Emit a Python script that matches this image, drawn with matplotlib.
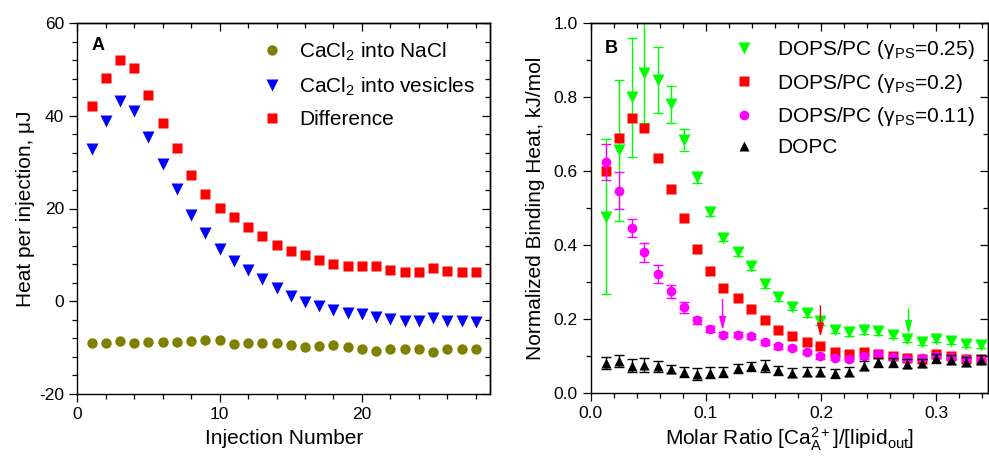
import matplotlib
matplotlib.use("Agg")
import matplotlib.pyplot as plt
from matplotlib.ticker import MultipleLocator, FormatStrFormatter

plt.rcParams['font.family'] = ['Liberation Sans', 'DejaVu Sans']
plt.rcParams['mathtext.fontset'] = 'custom'
plt.rcParams['mathtext.rm'] = 'Liberation Sans'
plt.rcParams['mathtext.it'] = 'Liberation Sans:italic'
plt.rcParams['mathtext.bf'] = 'Liberation Sans:bold'
plt.rcParams['axes.unicode_minus'] = False

# ---------------- Panel A data ----------------
injection = list(range(1, 29))
nacl = [-8.97, -9.1, -8.67, -8.97, -8.82, -8.74, -8.88, -8.67, -8.39, -8.39,
        -9.25, -9.1, -8.97, -8.97, -9.4, -9.83, -9.68, -9.53, -9.83, -10.3,
        -10.7, -10.4, -10.4, -10.2, -10.9, -10.4, -10.2, -10.4]
vesicles = [32.8, 38.8, 43.2, 41.1, 35.5, 29.6, 24.2, 18.5, 14.7, 11.3,
            8.7, 6.7, 4.9, 2.9, 1.1, -0.15, -1.1, -1.9, -2.5, -2.8,
            -3.4, -3.9, -4.3, -4.2, -3.7, -4.3, -4.3, -4.5]
difference = [42.2, 48.2, 52.0, 50.3, 44.5, 38.4, 33.0, 27.3, 23.2, 20.1,
              18.1, 16.1, 14.0, 12.2, 10.8, 9.9, 9.0, 8.1, 7.5, 7.7,
              7.5, 6.8, 6.4, 6.4, 7.2, 6.5, 6.2, 6.2]

# ---------------- Panel B data ----------------
ratio = [0.0133, 0.0246, 0.0356, 0.0466, 0.0582, 0.0695, 0.0811, 0.0927,
         0.1037, 0.115, 0.1275, 0.139, 0.151, 0.163, 0.175, 0.188,
         0.199, 0.212, 0.224, 0.237, 0.2496, 0.2626, 0.275, 0.288,
         0.300, 0.313, 0.326, 0.339]
ps025 = [0.477, 0.656, 0.799, 0.864, 0.846, 0.780, 0.683, 0.583,
         0.490, 0.420, 0.381, 0.342, 0.295, 0.260, 0.233, 0.215,
         0.194, 0.171, 0.165, 0.169, 0.167, 0.156, 0.146, 0.139,
         0.147, 0.140, 0.132, 0.130]
ps025_err = [0.21, 0.19, 0.16, 0.135, 0.09, 0.05, 0.03, 0.015,
             0.012, 0.01, 0.01, 0.01, 0.012, 0.012, 0.01, 0.01,
             0.01, 0.01, 0.01, 0.01, 0.01, 0.008, 0.008, 0.008,
             0.008, 0.008, 0.008, 0.008]
ps020 = [0.601, 0.688, 0.742, 0.717, 0.635, 0.550, 0.473, 0.389,
         0.330, 0.284, 0.257, 0.227, 0.198, 0.171, 0.153, 0.138,
         0.128, 0.112, 0.106, 0.110, 0.105, 0.099, 0.094, 0.093,
         0.106, 0.099, 0.093, 0.092]
ps011 = [0.624, 0.547, 0.445, 0.380, 0.321, 0.275, 0.232, 0.196,
         0.173, 0.158, 0.158, 0.153, 0.137, 0.126, 0.121, 0.111,
         0.099, 0.094, 0.092, 0.099, 0.105, 0.097, 0.092, 0.094,
         0.101, 0.097, 0.092, 0.090]
ps011_err = [0.048, 0.05, 0.024, 0.026, 0.025, 0.018, 0.015, 0.01,
             0.008, 0.007, 0.007, 0.007, 0.006, 0.006, 0.006, 0.006,
             0.006, 0.006, 0.006, 0.006, 0.006, 0.006, 0.006, 0.006,
             0.006, 0.006, 0.006, 0.006]
dopc = [0.081, 0.087, 0.074, 0.076, 0.072, 0.065, 0.056, 0.052,
        0.055, 0.056, 0.067, 0.072, 0.072, 0.061, 0.055, 0.058,
        0.058, 0.053, 0.058, 0.074, 0.083, 0.083, 0.079, 0.081,
        0.094, 0.090, 0.085, 0.090]
dopc_err = [0.016, 0.016, 0.018, 0.018, 0.014, 0.012, 0.014, 0.016,
            0.014, 0.014, 0.012, 0.012, 0.016, 0.012, 0.012, 0.012,
            0.012, 0.012, 0.012, 0.012, 0.012, 0.012, 0.012, 0.012,
            0.012, 0.012, 0.012, 0.012]
# arrows: (x, y_start, y_end, colour)
arrows_x = [0.1145, 0.1995, 0.276]
arrows_y0 = [0.253, 0.236, 0.227]
arrows_y1 = [0.169, 0.151, 0.158]
arrows_c = ['#FF00FF', '#FF0000', '#00FF00']

fig = plt.figure(figsize=(9.89, 4.58), dpi=100)
W, H = 989, 458
axA = fig.add_axes([77.3 / W, 1 - 394 / H, (490 - 77.3) / W, (394 - 23) / H])
axB = fig.add_axes([590.7 / W, 1 - 393 / H, (988 - 590.7) / W, (393 - 23) / H])


def style(ax, xmaj, xmin, ymaj, ymin, fmt=None):
    for s in ax.spines.values():
        s.set_linewidth(1.0)
    for a in (ax.xaxis,):
        a.set_major_locator(MultipleLocator(xmaj))
        a.set_minor_locator(MultipleLocator(xmin))
    ax.yaxis.set_major_locator(MultipleLocator(ymaj))
    ax.yaxis.set_minor_locator(MultipleLocator(ymin))
    if fmt:
        ax.xaxis.set_major_formatter(FormatStrFormatter(fmt))
        ax.yaxis.set_major_formatter(FormatStrFormatter(fmt))
    ax.tick_params(which='both', direction='out', labelsize=12.5, width=0.9,
                   top=False, right=False)
    ax.tick_params(which='major', length=6)
    ax.tick_params(which='minor', length=3.5)
    # mirrored ticks pointing inward on top/right
    top = ax.secondary_xaxis('top')
    top.xaxis.set_major_locator(MultipleLocator(xmaj))
    top.xaxis.set_minor_locator(MultipleLocator(xmin))
    top.tick_params(which='both', direction='in', labeltop=False, width=0.9)
    top.tick_params(which='major', length=6)
    top.tick_params(which='minor', length=3.5)
    top.spines['top'].set_linewidth(1.0)
    right = ax.secondary_yaxis('right')
    right.yaxis.set_major_locator(MultipleLocator(ymaj))
    right.yaxis.set_minor_locator(MultipleLocator(ymin))
    right.tick_params(which='both', direction='in', labelright=False, width=0.9)
    right.tick_params(which='major', length=6)
    right.tick_params(which='minor', length=3.5)
    right.spines['right'].set_linewidth(1.0)


# ---- Panel A ----
axA.plot(injection, nacl, 'o', color='#808000', ms=7.5, mec='none', label=r'CaCl$_2$ into NaCl')
axA.plot(injection, vesicles, 'v', color='#0000FF', ms=8, mec='none', label=r'CaCl$_2$ into vesicles')
axA.plot(injection, difference, 's', color='#FF0000', ms=6.8, mec='none', label='Difference')
axA.set_xlim(0, 29)
axA.set_ylim(-20, 60)
style(axA, 10, 2, 20, 4)
axA.set_xlabel('Injection Number', fontsize=15, labelpad=5)
axA.set_ylabel('Heat per injection, μJ', fontsize=15, labelpad=3)
axA.text(0.035, 0.927, 'A', transform=axA.transAxes, fontsize=13, fontweight='bold', va='baseline')
axA.legend(loc='upper left', bbox_to_anchor=(0.447, 0.953), frameon=False, fontsize=15,
           handlelength=1.0, handletextpad=0.8, labelspacing=0.6, borderpad=0, borderaxespad=0)

# ---- Panel B ----
eb = dict(fmt='none', capsize=3.5, elinewidth=1.0, capthick=1.0)
axB.errorbar(ratio, ps025, yerr=ps025_err, ecolor='#00FF00', **eb)
axB.plot(ratio, ps025, 'v', color='#00FF00', ms=9, mec='none', label=r'DOPS/PC (γ$_{\rm PS}$=0.25)')
axB.plot(ratio, ps020, 's', color='#FF0000', ms=6.8, mec='none', label=r'DOPS/PC (γ$_{\rm PS}$=0.2)')
axB.errorbar(ratio, ps011, yerr=ps011_err, ecolor='#FF00FF', **eb)
axB.plot(ratio, ps011, 'o', color='#FF00FF', ms=7, mec='none', label=r'DOPS/PC (γ$_{\rm PS}$=0.11)')
axB.errorbar(ratio, dopc, yerr=dopc_err, ecolor='black', **eb)
axB.plot(ratio, dopc, '^', color='black', ms=7.5, mec='none', label='DOPC')
for x, y0, y1, c in zip(arrows_x, arrows_y0, arrows_y1, arrows_c):
    axB.annotate('', xy=(x, y1), xytext=(x, y0),
                 arrowprops=dict(arrowstyle='-|>,head_length=0.8,head_width=0.2', color=c, lw=1.0,
                                 shrinkA=0, shrinkB=0))
axB.set_xlim(0, 0.345)
axB.set_ylim(0, 1.0)
style(axB, 0.1, 0.02, 0.2, 0.1, fmt='%.1f')
axB.set_xlabel(r'Molar Ratio [Ca$^{2+}_{\rm A}$]/[lipid$_{\rm out}$]', fontsize=15, labelpad=3)
axB.set_ylabel('Normalized Binding Heat, kJ/mol', fontsize=15, labelpad=6)
axB.text(0.036, 0.92, 'B', transform=axB.transAxes, fontsize=13, fontweight='bold', va='baseline')
axB.legend(loc='upper left', bbox_to_anchor=(0.36, 0.959), frameon=False, fontsize=15,
           handlelength=1.0, handletextpad=1.1, labelspacing=0.5, borderpad=0, borderaxespad=0)

fig.savefig('out.png', dpi=100)
